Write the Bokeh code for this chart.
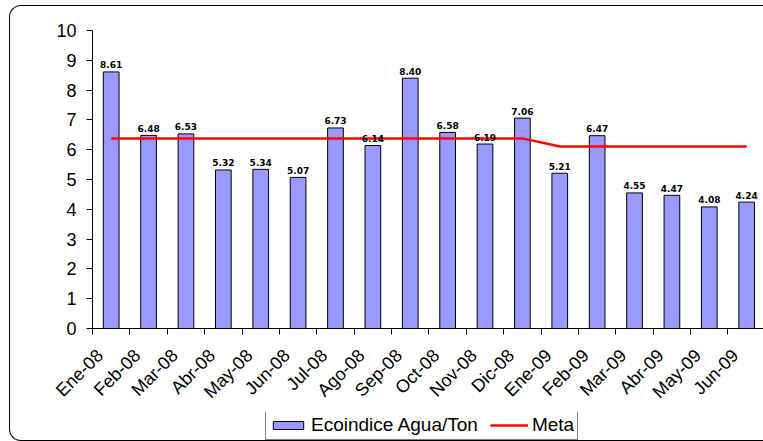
import numpy as np
from bokeh.plotting import figure
from bokeh.layouts import column
from bokeh.models import (ColumnDataSource, Range1d, FixedTicker, Legend, LegendItem,
                          InlineStyleSheet)
from bokeh.core.properties import value
from bokeh.embed import file_html
from bokeh.resources import INLINE

# ---- data ----
months = ["Ene-08", "Feb-08", "Mar-08", "Abr-08", "May-08", "Jun-08", "Jul-08", "Ago-08",
          "Sep-08", "Oct-08", "Nov-08", "Dic-08", "Ene-09", "Feb-09", "Mar-09", "Abr-09",
          "May-09", "Jun-09"]
ecoindice = [8.61, 6.48, 6.53, 5.32, 5.34, 5.07, 6.73, 6.14, 8.40, 6.58, 6.19, 7.06,
             5.21, 6.47, 4.55, 4.47, 4.08, 4.24]
meta = [6.38, 6.38, 6.38, 6.38, 6.38, 6.38, 6.38, 6.38, 6.38, 6.38, 6.38, 6.38,
        6.11, 6.11, 6.11, 6.11, 6.11, 6.11]
y_ticks = [0, 1, 2, 3, 4, 5, 6, 7, 8, 9, 10]

FONT = "Liberation Sans"
LABEL_SHIFT = 0.3   # Excel-style rotated labels end left of the category centre
BAR_COLOR = "#9999FF"
META_COLOR = "#FF0000"

xs = list(range(len(months)))
src = ColumnDataSource(dict(x=xs, month=months, eco=ecoindice, meta=meta,
                            lab=[f"{v:.2f}" for v in ecoindice]))

p = figure(width=763, height=412, output_backend="svg", toolbar_location=None,
           x_range=Range1d(-0.5, 17.45), y_range=Range1d(0, 10),
           min_border_left=92, min_border_right=0, min_border_top=30, min_border_bottom=84)
p.xgrid.visible = False
p.ygrid.visible = False
p.outline_line_color = None
p.background_fill_alpha = 0
p.border_fill_alpha = 0

bars = p.vbar(x="x", top="eco", width=0.42, source=src, fill_color=BAR_COLOR,
              line_color="black", line_width=1)
meta_line = p.line(x="x", y="meta", source=src, line_color=META_COLOR, line_width=2.5)
p.text(x="x", y="eco", text="lab", source=src, text_font=value("DejaVu Sans"),
       text_font_style="bold", text_font_size="9px", text_align="center",
       text_baseline="alphabetic", y_offset=-7, text_color="black")

# x axis: labels near category centres, ticks at category boundaries
xa = p.xaxis[0]
label_pos = [i - LABEL_SHIFT for i in xs]
xa.ticker = FixedTicker(ticks=label_pos, minor_ticks=[i - 0.5 for i in range(len(months) + 1)])
xa.major_label_overrides = {pos: m for pos, m in zip(label_pos, months)}
xa.major_tick_out = 0
xa.major_tick_in = 0
xa.minor_tick_out = 6
xa.minor_tick_in = 0
xa.minor_tick_line_color = "black"
xa.axis_line_color = "black"
xa.major_label_orientation = np.pi / 4
xa.major_label_text_font = FONT
xa.major_label_text_font_size = "18px"
xa.major_label_text_color = "black"
xa.major_label_standoff = 18

ya = p.yaxis[0]
ya.ticker = FixedTicker(ticks=y_ticks)
ya.major_tick_out = 6
ya.major_tick_in = 0
ya.minor_tick_out = 0
ya.minor_tick_in = 0
ya.axis_line_color = "black"
ya.major_tick_line_color = "black"
ya.major_label_text_font = FONT
ya.major_label_text_font_size = "18px"
ya.major_label_text_color = "black"
ya.major_label_standoff = 10

# ---- legend strip (legend proxies share the data, hidden in the strip) ----
p2 = figure(width=763, height=29, output_backend="svg", toolbar_location=None,
            x_range=Range1d(0, 1), y_range=Range1d(0, 1), x_axis_type=None, y_axis_type=None,
            min_border=0, min_border_left=0, min_border_right=0, min_border_top=0,
            min_border_bottom=0)
p2.xgrid.visible = False
p2.ygrid.visible = False
p2.outline_line_color = None
p2.background_fill_alpha = 0
p2.border_fill_alpha = 0
leg_bar = p2.vbar(x="x", top="eco", width=0.42, source=src, fill_color=BAR_COLOR,
                  line_color="black", line_width=1, visible=False)
leg_line = p2.line(x="x", y="meta", source=src, line_color=META_COLOR, line_width=2.5,
                   visible=False)

legend = Legend(items=[LegendItem(label="Ecoindice Agua/Ton", renderers=[leg_bar]),
                       LegendItem(label="Meta", renderers=[leg_line])],
                orientation="horizontal", location=(173, 1), margin=0, padding=3,
                glyph_width=38, glyph_height=10, label_standoff=4, spacing=12,
                border_line_color="black", border_line_width=1,
                label_text_font=FONT, label_text_font_size="19px", label_text_color="black",
                background_fill_color="white", background_fill_alpha=1,
                inactive_fill_alpha=0)
p2.add_layout(legend)

css = """
:host { position: relative; background: white; }
:host::before {
  content: ""; position: absolute; left: 8.5px; top: 4.5px; width: 754.5px; height: 436px;
  box-sizing: border-box; border: 1.5px solid #000; border-right: none;
  border-radius: 12px 0 0 12px; pointer-events: none; z-index: 10;
}
"""
layout = column(p, p2, stylesheets=[InlineStyleSheet(css=css)])

open("out.html", "w").write(file_html(layout, INLINE))
